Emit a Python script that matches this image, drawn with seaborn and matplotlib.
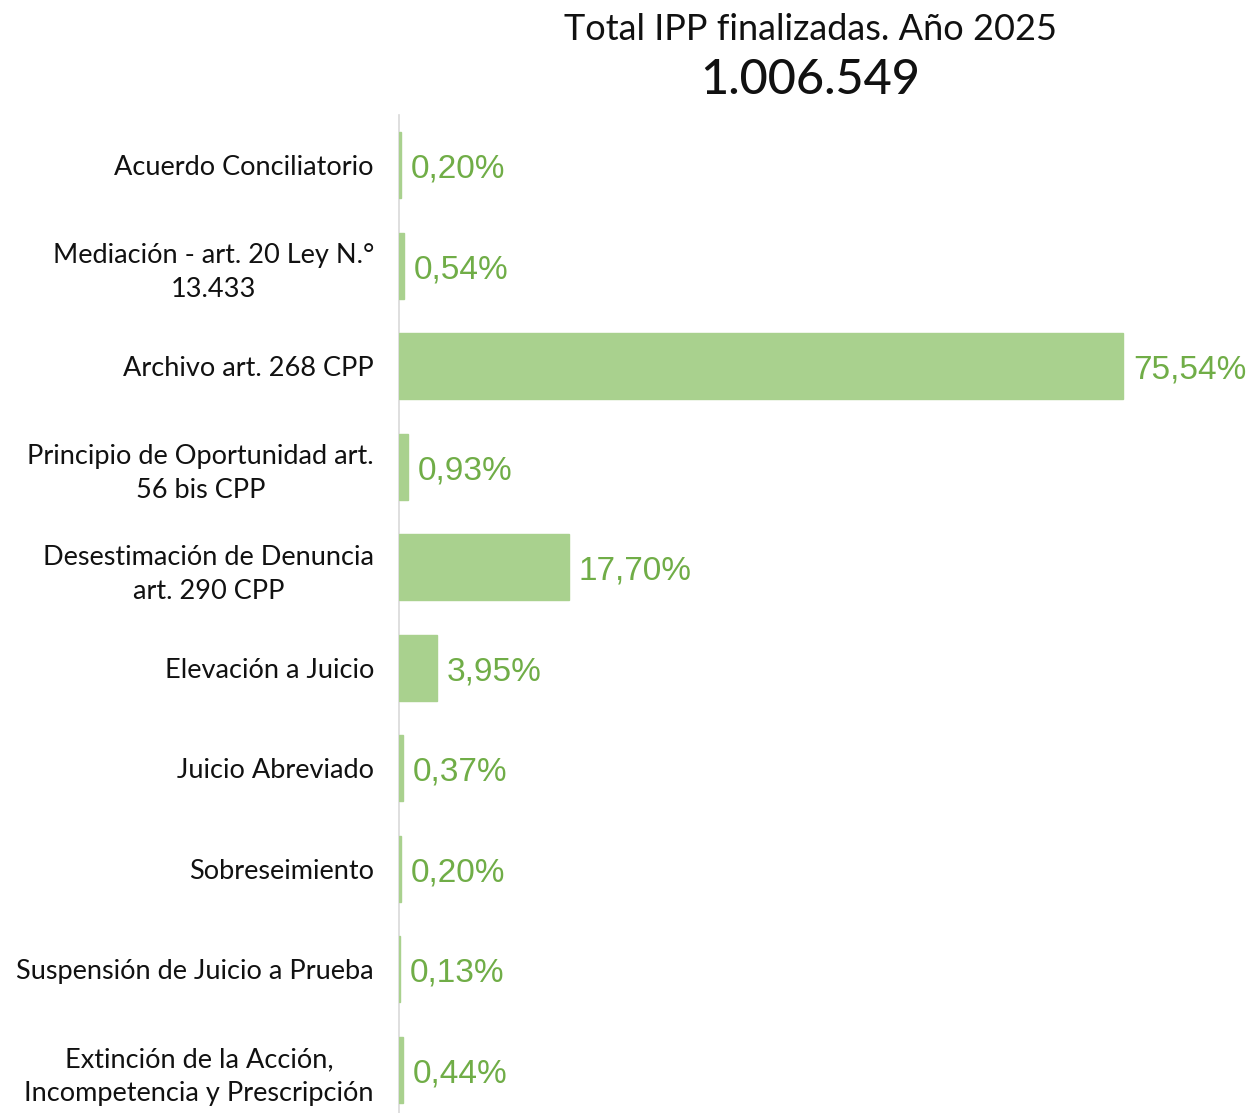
import pandas as pd
import matplotlib.pyplot as plt
import seaborn as sns

categorias = [
    "Acuerdo Conciliatorio",
    "Mediación - art. 20 Ley N.°\n13.433",
    "Archivo art. 268 CPP",
    "Principio de Oportunidad art.\n56 bis CPP",
    "Desestimación de Denuncia\nart. 290 CPP",
    "Elevación a Juicio",
    "Juicio Abreviado",
    "Sobreseimiento",
    "Suspensión de Juicio a Prueba",
    "Extinción de la Acción,\nIncompetencia y Prescripción",
]
porcentajes = [0.20, 0.54, 75.54, 0.93, 17.70, 3.95, 0.37, 0.20, 0.13, 0.44]
titulo = "Total IPP finalizadas. Año 2025"
total = "1.006.549"

df = pd.DataFrame({"cat": categorias, "pct": porcentajes})

sns.set_style("white")
plt.rcParams["font.family"] = ["Lato", "DejaVu Sans"]

fig = plt.figure(figsize=(12.52, 11.13), dpi=100)
W, H = 1252, 1113
ax = fig.add_axes([399 / W, (1113 - 1120) / H, (1252 - 399) / W, 1005 / H])

sns.barplot(data=df, x="pct", y="cat", orient="h", color="#a9d18e",
            saturation=1, width=0.66, edgecolor="#a9d18e", linewidth=1,
            ax=ax)

ax.set_xlim(0, (1252 - 399) / 9.585)
ax.set_ylim(9.5, -0.5)
ax.set_xlabel("")
ax.set_ylabel("")
ax.set_xticks([])
for s in ["top", "right", "bottom"]:
    ax.spines[s].set_visible(False)
ax.spines["left"].set_color("#d9d9d9")
ax.spines["left"].set_linewidth(1.2)
ax.spines["left"].set_zorder(0)
ax.tick_params(axis="y", length=0, pad=18, labelsize=19.5)
for lbl in ax.get_yticklabels():
    lbl.set_multialignment("center")
    lbl.set_linespacing(1.45)
    lbl.set_color("#111111")

for i, v in enumerate(porcentajes):
    ax.annotate(f"{v:.2f}%".replace(".", ","), xy=(v, i), xytext=(7, -3),
                textcoords="offset points", va="center", ha="left",
                fontsize=24, color="#70ad47", family="Liberation Sans")

fig.text(810 / W, 1 - 29 / H, titulo, ha="center", va="center",
         fontsize=26, color="#111111")
fig.text(810 / W, 1 - 80 / H, total, ha="center", va="center",
         fontsize=35, color="#111111", fontweight="medium")

fig.savefig("out.png", dpi=100)
